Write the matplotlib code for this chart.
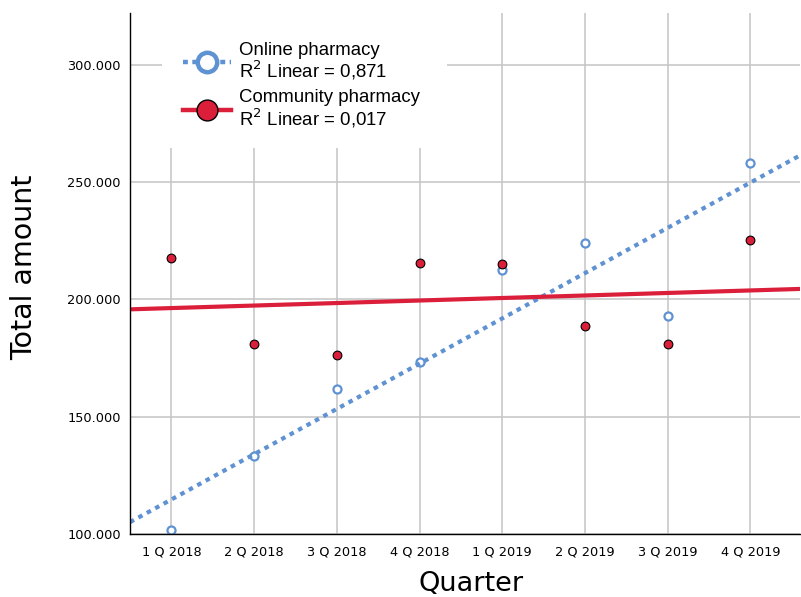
import numpy as np
import matplotlib
matplotlib.use('Agg')
import matplotlib.pyplot as plt
from matplotlib.lines import Line2D
from matplotlib.patches import Rectangle
from matplotlib.ticker import FuncFormatter

plt.rcParams['font.family'] = ['DejaVu Sans']

# 季度与两组数据
quarters = ['1 Q 2018', '2 Q 2018', '3 Q 2018', '4 Q 2018',
            '1 Q 2019', '2 Q 2019', '3 Q 2019', '4 Q 2019']
online = [101800, 133100, 161800, 173400, 212500, 224000, 193050, 258300]
community = [217600, 181100, 176300, 215400, 215100, 188650, 181000, 225300]
online_label = 'Online pharmacy\nR$^2$ Linear = 0,871'
community_label = 'Community pharmacy\nR$^2$ Linear = 0,017'

blue = '#5f92d2'
red = '#db1f3b'

fig = plt.figure(figsize=(8.01, 5.97), dpi=100)
ax = fig.add_axes([130 / 801, 1 - 534 / 597, 670 / 801, (534 - 12.7) / 597])

x = np.arange(1, len(quarters) + 1)

# 散点
ax.plot(x, online, 'o', ms=5.8, mfc='white', mec=blue, mew=1.6, zorder=3)
ax.plot(x, community, 'o', ms=6.3, mfc=red, mec='black', mew=0.8, zorder=3)

# 线性拟合
xs = np.array([0.5, 8.6])
k1, b1 = np.polyfit(x, online, 1)
k2, b2 = np.polyfit(x, community, 1)
ax.plot(xs, k1 * xs + b1, color=blue, lw=3.0, ls=(0, (1.1, 1.2)),
        solid_capstyle='butt', dash_capstyle='butt', zorder=4)
ax.plot(xs, k2 * xs + b2, color=red, lw=3.0, zorder=4)

ax.set_xlim(0.5, 8.6)
ax.set_ylim(100000, 322200)
ax.set_xticks(x)
ax.set_xticklabels(quarters)
ax.set_yticks([100000, 150000, 200000, 250000, 300000])
ax.yaxis.set_major_formatter(FuncFormatter(lambda v, p: f'{v:,.0f}'.replace(',', '.')))
ax.tick_params(axis='both', length=0, labelsize=9.3, colors='black')
ax.tick_params(axis='y', pad=6.5)
ax.tick_params(axis='x', pad=8)

ax.grid(True, color='#c4c4c4', lw=1.1)
ax.set_axisbelow(True)
for s in ['top', 'right']:
    ax.spines[s].set_visible(False)
for s in ['left', 'bottom']:
    ax.spines[s].set_linewidth(1.0)
    ax.spines[s].set_zorder(5)

# 图例背景（白色遮住网格线）
ax.add_patch(Rectangle((32 / 670, 1 - (148 - 12.7) / 521.3), (447 - 162) / 670, 1.0,
                       transform=ax.transAxes, facecolor='white', edgecolor='none',
                       zorder=2, clip_on=False))

h1 = Line2D([], [], color=blue, lw=3.2, ls=(0, (1.1, 1.0)), marker='o', ms=14,
            mfc='white', mec=blue, mew=3.2)
h2 = Line2D([], [], color=red, lw=3.2, marker='o', ms=15, mfc=red, mec='black', mew=1.0)
leg = ax.legend([h1, h2], [online_label, community_label], loc='upper left',
                bbox_to_anchor=(53 / 670, 0.944), frameon=False,
                handlelength=2.6, handletextpad=0.4, borderpad=0, borderaxespad=0,
                labelspacing=0.4, prop={'family': 'Liberation Sans', 'size': 13.4})
for t in leg.get_texts():
    t.set_linespacing(0.98)
leg.set_zorder(6)

fig.text(32 / 801, 1 - 267.5 / 597, 'Total amount', rotation=90, rotation_mode='anchor',
         ha='center', va='baseline', fontsize=20.5)
fig.text(471.5 / 801, 6 / 597, 'Quarter', ha='center', va='baseline', fontsize=19.5)

fig.savefig('out.png', dpi=100)
